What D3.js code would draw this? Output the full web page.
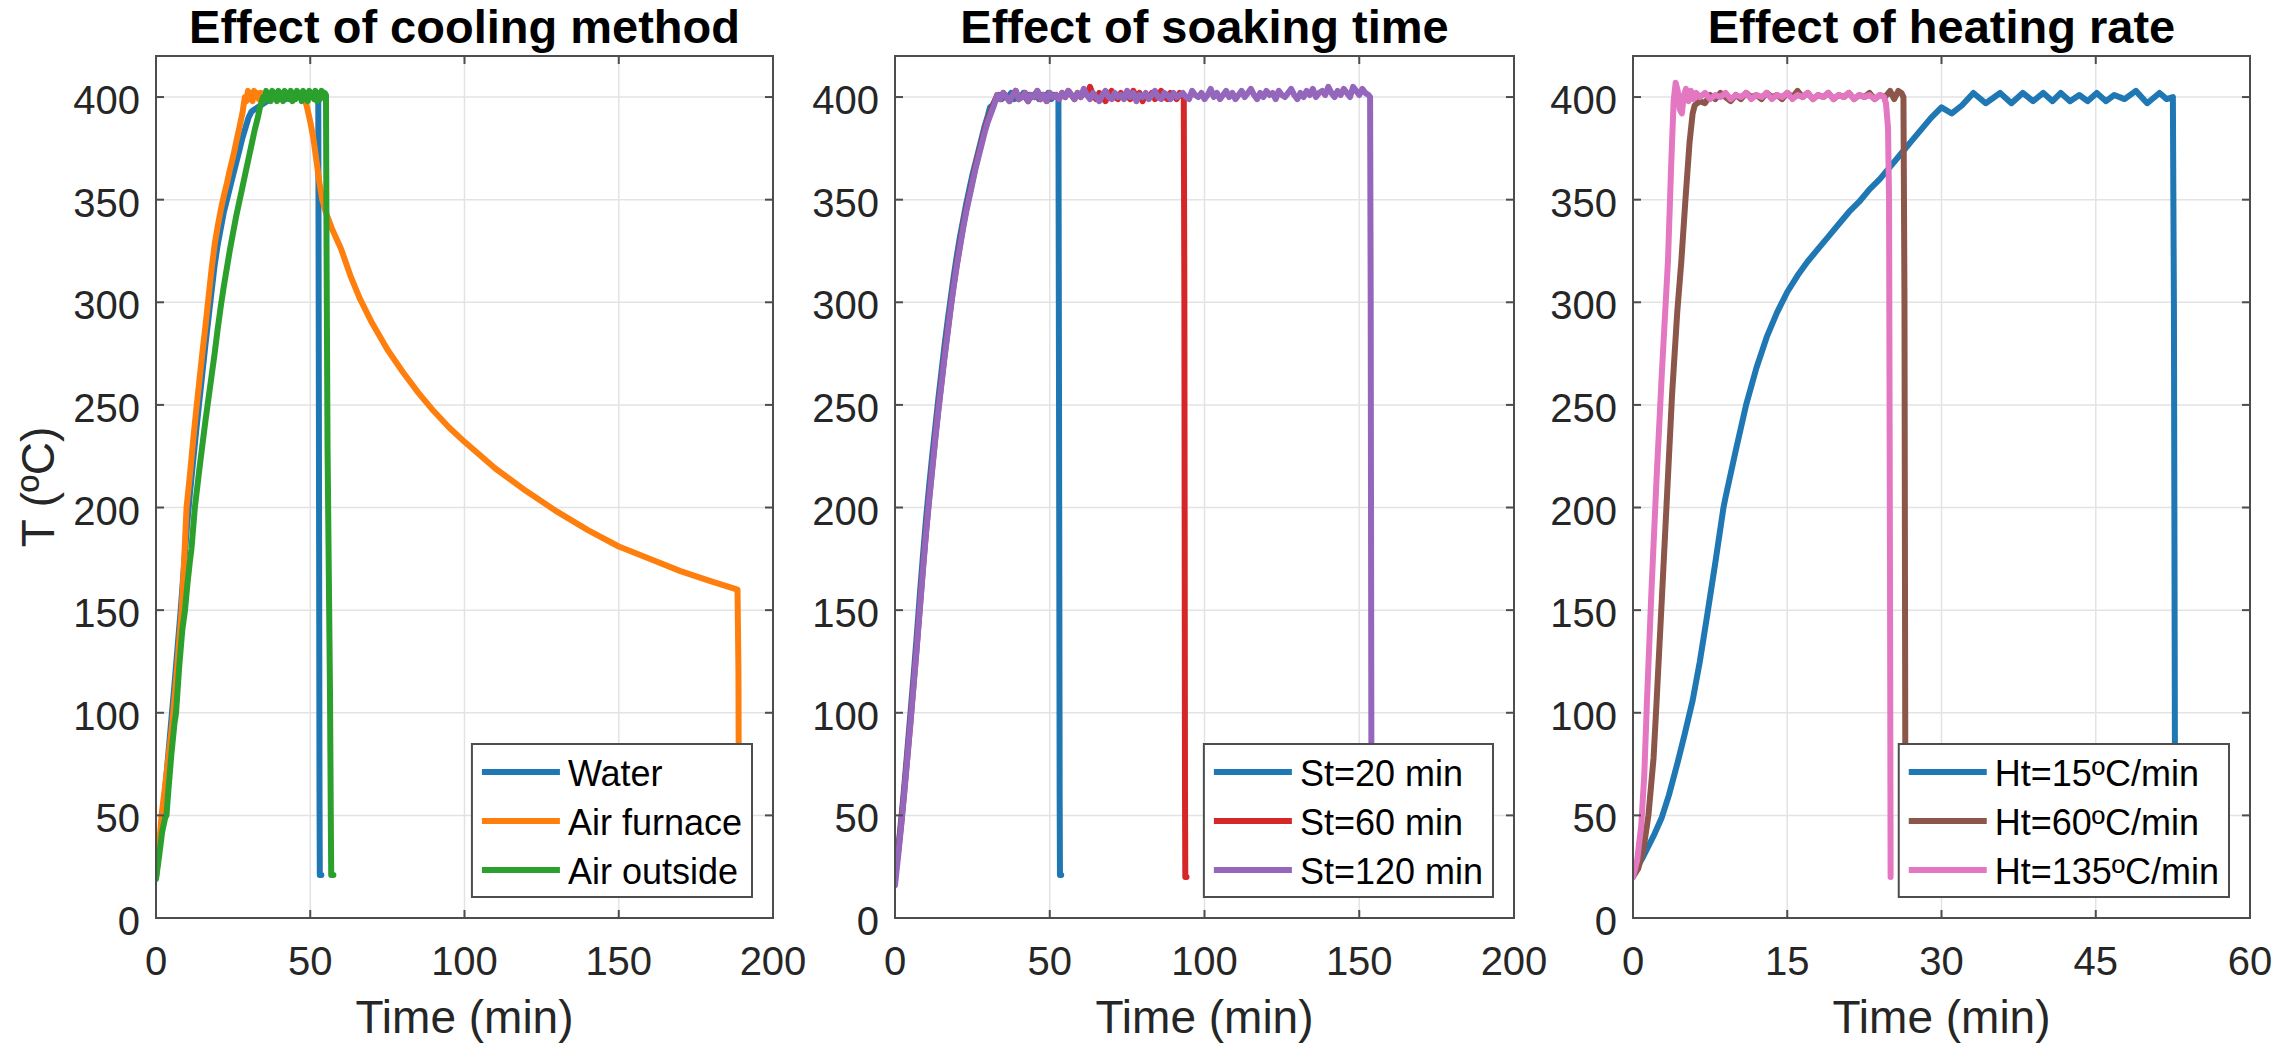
<!DOCTYPE html>
<html>
<head>
<meta charset="utf-8">
<script src="https://cdn.jsdelivr.net/npm/d3@7"></script>
<style>
  body { margin: 0; background: #fff; }
  svg { display: block; }
  text { font-family: "Liberation Sans", Arial, Helvetica, sans-serif; }
</style>
</head>
<body>
<svg id="chart" width="2295" height="1045"></svg>
<script>
// ---- Thermal cycles: [time (min), temperature (°C)] ----

// Cooling method
const water = [[0,20],[1,33],[2,48],[3,63],[4,80],[5,97],[6,114],[7,132],[8,150],[9,170],[10,190],[11,207],[12,222],[13,237],[14,251],[15,265],[16,279],[17,292],[18,305],[19,318],[20,328],[21,336],[22,344],[23,350],[24,356],[25,362],[26,368],[27,374],[28,380],[29,385],[30,390],[31,393],[32,394],[33,395],[34,396],[35,397],[36,398],[37,399],[38,400],[39,399],[40,401],[41,400],[42,399],[43,401],[44,400],[45,399],[46,401],[47,400],[48,399],[49,401],[50,400],[51,401],[52,400],[52.6,400],[52.8,250],[53,60],[53.1,21],[53.6,21]];

const airFurnace = [[0,20],[1,35],[1.8,50],[3,65],[4,78],[5,91],[5.6,100],[7,125],[8.3,150],[9,170],[9.9,200],[11,216],[12,232],[13,247],[14,261],[15,275],[16,288],[17,302],[18,316],[19,328],[20,337],[21,345],[22,352],[23,358],[24,365],[25,371],[26,378],[27,385],[28,392],[28.8,400],[29.3,398],[29.8,403],[30.3,399],[30.8,402],[31.3,398],[31.8,403],[32.3,400],[32.8,402],[33.3,399],[34,402],[35,400],[36,402],[37,399],[38,401],[39,400],[40,402],[41,399],[42,401],[43,400],[44,402],[45,399],[46,401],[47,400],[48,399],[48.8,396],[50,388],[51,380],[52,369],[53,358],[53.9,350],[55,344],[57,336],[60,326],[63,313],[66,302],[70,290],[75,277],[80,266],[85,256],[90,247],[95,239],[100,232],[110,219],[120,208],[130,198],[140,189],[150,181],[160,175],[170,169],[180,164],[188.5,160],[188.8,120],[189,20]];

const airOutside = [[0,19],[1,30],[2,42],[3,49],[3.4,50],[4,62],[5,80],[6,95],[6.5,100],[7.5,122],[8.5,140],[9.4,150],[10.2,163],[11,174],[11.5,180],[12.6,200],[14,218],[15,230],[16,242],[17,253],[18,264],[19,275],[20,287],[21,298],[22,308],[23,317],[24,326],[25,334],[26,342],[27,349],[28,356],[29,363],[30,370],[31,377],[32,384],[33,390],[33.7,395],[34.7,400],[35.2,398],[35.7,403],[36.2,399],[36.7,402],[37.2,398],[37.7,403],[38.2,400],[38.7,402],[39.2,398],[39.7,403],[40.2,399],[40.7,402],[41.2,398],[41.7,403],[42.2,400],[42.7,402],[43.2,399],[43.7,403],[44.2,398],[44.7,402],[45.2,399],[45.7,403],[46.2,400],[46.7,402],[47.2,398],[47.7,403],[48.2,399],[48.7,402],[49.2,398],[49.7,403],[50.2,400],[50.7,402],[51.2,399],[51.7,403],[52.2,398],[52.7,402],[53.2,399],[53.7,403],[54.2,400],[54.7,402],[55.1,401],[55.3,320],[55.6,230],[56,170],[56.4,110],[56.7,40],[56.8,21],[57.5,21]];

// Soaking time
const st20 = [[0,20],[1,33],[2,48],[3,64],[4,82],[5,100],[6,118],[7,137],[8,157],[9,176],[10,194],[11,210],[12,225],[13,239],[14,253],[15,266],[16,279],[17,291],[18,302],[19,313],[20,323],[21,332],[22,340],[23,348],[24,355],[25,362],[26,368],[27,374],[28,380],[29,386],[30,391],[30.7,395],[31.5,396],[32.5,399],[33.5,401],[34.5,399],[35.5,401],[36.5,400],[37.5,402],[38.5,399],[39.5,401],[40.5,400],[41.5,402],[42.5,399],[43.5,401],[44.5,400],[45.5,402],[46.5,399],[47.5,401],[48.5,400],[49.5,402],[50.5,399],[51.5,401],[52.5,400],[52.8,400],[53,250],[53.2,60],[53.3,21],[53.7,21]];

const st60 = [[0,20],[1,32],[2,46],[3,62],[4,79],[5,96],[6,114],[7,132],[8,151],[9,170],[10,188],[11,204],[12,219],[13,234],[14,248],[15,261],[16,274],[17,286],[18,298],[19,309],[20,319],[21,328],[22,337],[23,345],[24,352],[25,359],[26,366],[27,372],[28,378],[29,384],[30,389],[31,393],[32,397],[33,401],[34,399],[35,402],[36,400],[37,398],[38,401],[39,403],[40,399],[41,400],[42,402],[43,398],[44,401],[45,400],[46,403],[47,399],[48,401],[49,398],[50,402],[51,400],[52,401],[53,399],[54,402],[55,400],[56,403],[57,401],[58,399],[59,402],[60,400],[61,402],[62,401],[63,405],[64,401],[65,399],[66,402],[67,400],[68,398],[69,401],[70,403],[71,400],[72,399],[73,402],[74,400],[75,401],[76,399],[77,403],[78,400],[79,402],[80,398],[81,401],[82,400],[83,402],[84,399],[85,401],[86,403],[87,400],[88,399],[89,402],[90,401],[91,399],[92,402],[93,400],[93.3,401],[93.5,300],[93.7,60],[93.8,20],[94.2,20]];

const st120 = [[0,16],[1,30],[2,45],[3,61],[4,78],[5,95],[6,113],[7,131],[8,150],[9,169],[10,187],[11,203],[12,218],[13,233],[14,247],[15,260],[16,273],[17,285],[18,297],[19,308],[20,318],[21,327],[22,336],[23,344],[24,351],[25,358],[26,365],[27,371],[28,377],[29,383],[30,388],[31,392],[32,396],
[33,401],[34,399],[35,402],[36,400],[37,398],[38,401],[39,403],[40,399],[41,400],[42,402],[43,398],[44,401],[45,400],[46,403],[47,399],[48,401],[49,398],[50,402],[51,400],[52,401],
[53,399],[54,402],[55,400],[56,403],[57,401],[58,399],[59,402],[60,400],[61,404],[62,401],[63,399],[64,402],[65,400],[66,398],[67,401],[68,403],[69,400],[70,399],[71,402],[72,400],
[73,401],[74,399],[75,403],[76,400],[77,402],[78,398],[79,401],[80,400],[81,402],[82,399],[83,401],[84,403],[85,400],[86,399],[87,402],[88,401],[89,399],[90,402],[91,400],[92,401],
[93,402],[94,400],[95,399],[96,403],[97,401],[98,400],[99,402],[100,399],[101,401],[102,404],[103,400],[104,402],[105,399],[106,401],[107,403],[108,400],[109,402],[110,399],[111,401],[112,403],
[113,400],[114,402],[115,404],[116,401],[117,399],[118,402],[119,400],[120,403],[121,401],[122,402],[123,399],[124,403],[125,401],[126,400],[127,402],[128,404],[129,401],[130,399],[131,402],[132,400],
[133,403],[134,401],[135,404],[136,400],[137,402],[138,403],[139,401],[140,405],[141,402],[142,400],[143,403],[144,401],[145,404],[146,402],[147,400],[148,405],[149,403],[150,401],[151,404],[152,402],[153,401],
[153.5,400],[153.7,300],[153.9,100],[154,20]];

// Heating rate
const ht15 = [[0,21],[1,30],[2,40],[2.8,49],[3.5,60],[4.3,75],[5,89],[5.8,106],[6.5,125],[7.2,147],[8,173],[8.8,200],[9,205],[10,228],[11,250],[12,268],[13,283],[14,295],[15,305],[16,313],[17,320],[18,326],[19,332],[20,338],[21,344],[22,349],[23,355],[24,360],[25,366],[26,372],[27,378],[28,384],[29,390],[30,395],[31,392],[32,396],[33.1,402],[34.3,397],[35.7,402],[36.8,397],[37.9,402],[38.9,398],[39.9,402],[40.8,398],[41.6,402],[42.5,398],[43.4,401],[44.2,398],[45.1,402],[46,398],[46.8,401],[47.8,399],[48.9,403],[50,397],[51.2,402],[51.9,399],[52.5,400],[52.6,300],[52.7,80],[52.8,20]];

const ht60 = [[0,20],[0.5,24],[1,33],[1.5,50],[2,78],[2.3,106],[2.8,155],[3.3,205],[3.8,255],[4.3,295],[4.7,320],[5.1,350],[5.5,378],[5.8,392],[6,396],[6.5,398],[7,397],[7.5,401],[8,399],[8.5,402],[9,400],[9.5,398],[10,401],[10.5,399],[11,402],[11.5,400],[12,401],[12.5,399],[13,402],[13.5,400],[14,401],[14.5,399],[15,402],[15.5,400],[16,403],[16.5,400],[17,402],[17.5,399],[18,401],[18.5,400],[19,402],[19.5,399],[20,401],[20.5,400],[21,402],[21.5,399],[22,401],[22.5,400],[23,402],[23.5,399],[24,401],[24.5,400],[25,403],[25.4,399],[25.8,403],[26.1,402],[26.3,400],[26.4,300],[26.5,20]];

const ht135 = [[0,20],[0.4,28],[0.8,45],[1.1,70],[1.36,106],[1.8,160],[2.3,215],[2.8,265],[3.4,320],[3.7,365],[3.95,398],[4.15,407],[4.35,403],[4.55,394],[4.75,392],[4.95,401],[5.15,404],[5.4,398],[5.65,403],[5.9,399],[6.15,402],[6.5,400],[7,402],[7.5,399],[8,401],[8.5,400],[9,402],[9.5,399],[10,401],[10.5,400],[11,402],[11.5,399],[12,401],[12.5,400],[13,402],[13.5,399],[14,401],[14.5,400],[15,402],[15.5,399],[16,401],[16.5,400],[17,402],[17.5,399],[18,401],[18.5,400],[19,402],[19.5,399],[20,401],[20.5,400],[21,402],[21.5,399],[22,401],[22.5,400],[23,401],[23.5,399],[24,401],[24.4,400],[24.6,397],[24.8,385],[24.9,350],[25,150],[25.05,20]];

// Axes, titles and legend text
const tempTicks = [0, 50, 100, 150, 200, 250, 300, 350, 400];
const timeTicksLong = [0, 50, 100, 150, 200];
const timeTicksShort = [0, 15, 30, 45, 60];
const panelTitles = ["Effect of cooling method", "Effect of soaking time", "Effect of heating rate"];
const coolingLabels = ["Water", "Air furnace", "Air outside"];
const soakingLabels = ["St=20 min", "St=60 min", "St=120 min"];
const heatingLabels = ["Ht=15ºC/min", "Ht=60ºC/min", "Ht=135ºC/min"];
const xLabel = "Time (min)";
const yLabel = "T (ºC)";

// Colours
const colors = {
  blue: "#1f77b4", orange: "#ff7f0e", green: "#2ca02c",
  red: "#d62728", purple: "#9467bd", brown: "#8c564b", pink: "#e377c2"
};

const panels = [
  { title: panelTitles[0], xMax: 200, ticks: timeTicksLong, left: 156, right: 773,
    series: [
      { label: coolingLabels[0], color: colors.blue, data: water },
      { label: coolingLabels[1], color: colors.orange, data: airFurnace },
      { label: coolingLabels[2], color: colors.green, data: airOutside }
    ] },
  { title: panelTitles[1], xMax: 200, ticks: timeTicksLong, left: 895, right: 1514,
    series: [
      { label: soakingLabels[0], color: colors.blue, data: st20 },
      { label: soakingLabels[1], color: colors.red, data: st60 },
      { label: soakingLabels[2], color: colors.purple, data: st120 }
    ] },
  { title: panelTitles[2], xMax: 60, ticks: timeTicksShort, left: 1633, right: 2250,
    series: [
      { label: heatingLabels[0], color: colors.blue, data: ht15 },
      { label: heatingLabels[1], color: colors.brown, data: ht60 },
      { label: heatingLabels[2], color: colors.pink, data: ht135 }
    ] }
];

const svg = d3.select("#chart");
const plotTop = 56, plotBottom = 918;
const axisColor = "#4d4d4d";
const textColor = "#262626";
const gridColor = "#e3e3e3";
const tickLen = 8;
const lineW = 6;

panels.forEach((p, i) => {
  const x = d3.scaleLinear().domain([0, p.xMax]).range([p.left, p.right]);
  const y = d3.scaleLinear().domain([0, 420]).range([plotBottom, plotTop]);
  const g = svg.append("g");

  // grid
  g.append("g").selectAll("line").data(p.ticks).join("line")
    .attr("x1", d => x(d)).attr("x2", d => x(d))
    .attr("y1", plotTop).attr("y2", plotBottom)
    .attr("stroke", gridColor).attr("stroke-width", 1.5);
  g.append("g").selectAll("line").data(tempTicks).join("line")
    .attr("x1", p.left).attr("x2", p.right)
    .attr("y1", d => y(d)).attr("y2", d => y(d))
    .attr("stroke", gridColor).attr("stroke-width", 1.5);

  // clip to plot area
  const clipId = "clip" + i;
  svg.append("clipPath").attr("id", clipId).append("rect")
    .attr("x", p.left).attr("y", plotTop)
    .attr("width", p.right - p.left).attr("height", plotBottom - plotTop);

  const line = d3.line().x(d => x(d[0])).y(d => y(d[1]));
  const lines = g.append("g").attr("clip-path", `url(#${clipId})`);
  p.series.forEach(s => {
    lines.append("path").datum(s.data)
      .attr("d", line)
      .attr("fill", "none")
      .attr("stroke", s.color)
      .attr("stroke-width", lineW)
      .attr("stroke-linejoin", "round")
      .attr("stroke-linecap", "round");
  });

  // box
  g.append("rect")
    .attr("x", p.left).attr("y", plotTop)
    .attr("width", p.right - p.left).attr("height", plotBottom - plotTop)
    .attr("fill", "none").attr("stroke", axisColor).attr("stroke-width", 2);

  // inward ticks on all four sides
  const tk = g.append("g").attr("stroke", axisColor).attr("stroke-width", 2);
  p.ticks.forEach(t => {
    tk.append("line").attr("x1", x(t)).attr("x2", x(t)).attr("y1", plotBottom).attr("y2", plotBottom - tickLen);
    tk.append("line").attr("x1", x(t)).attr("x2", x(t)).attr("y1", plotTop).attr("y2", plotTop + tickLen);
  });
  tempTicks.forEach(t => {
    tk.append("line").attr("x1", p.left).attr("x2", p.left + tickLen).attr("y1", y(t)).attr("y2", y(t));
    tk.append("line").attr("x1", p.right).attr("x2", p.right - tickLen).attr("y1", y(t)).attr("y2", y(t));
  });

  // tick labels
  g.append("g").selectAll("text").data(p.ticks).join("text")
    .attr("x", d => x(d)).attr("y", 975)
    .attr("text-anchor", "middle")
    .attr("font-size", 40).attr("fill", textColor)
    .text(d => d);
  g.append("g").selectAll("text").data(tempTicks).join("text")
    .attr("x", p.left - 16).attr("y", d => y(d) + 17)
    .attr("text-anchor", "end")
    .attr("font-size", 40).attr("fill", textColor)
    .text(d => d);

  // title
  g.append("text")
    .attr("x", (p.left + p.right) / 2).attr("y", 43)
    .attr("text-anchor", "middle")
    .attr("font-size", 47).attr("font-weight", "bold").attr("fill", "#000")
    .text(p.title);

  // x label
  g.append("text")
    .attr("x", (p.left + p.right) / 2).attr("y", 1033)
    .attr("text-anchor", "middle")
    .attr("font-size", 46).attr("fill", textColor)
    .text(xLabel);

  if (i === 0) {
    g.append("text")
      .attr("transform", `translate(54,${(plotTop + plotBottom) / 2}) rotate(-90)`)
      .attr("text-anchor", "middle")
      .attr("font-size", 46).attr("fill", textColor)
      .text(yLabel);
  }

  // legend
  const lg = g.append("g");
  const fs = 36;
  const rowCenters = [772, 821, 870];
  const labels = p.series.map(s =>
    lg.append("text").attr("font-size", fs).attr("fill", "#000").text(s.label));
  const textW = d3.max(labels, t => t.node().getComputedTextLength());
  const boxRight = p.right - 21;
  const boxW = 10 + 78 + 8 + textW + 10;
  const boxLeft = boxRight - boxW;
  lg.insert("rect", ":first-child")
    .attr("x", boxLeft).attr("y", 744)
    .attr("width", boxW).attr("height", 153)
    .attr("fill", "#fff").attr("stroke", axisColor).attr("stroke-width", 2);
  p.series.forEach((s, k) => {
    lg.append("line")
      .attr("x1", boxLeft + 10).attr("x2", boxLeft + 88)
      .attr("y1", rowCenters[k]).attr("y2", rowCenters[k])
      .attr("stroke", s.color).attr("stroke-width", lineW);
    labels[k].attr("x", boxLeft + 96).attr("y", rowCenters[k] + 14);
  });
});
</script>
</body>
</html>
